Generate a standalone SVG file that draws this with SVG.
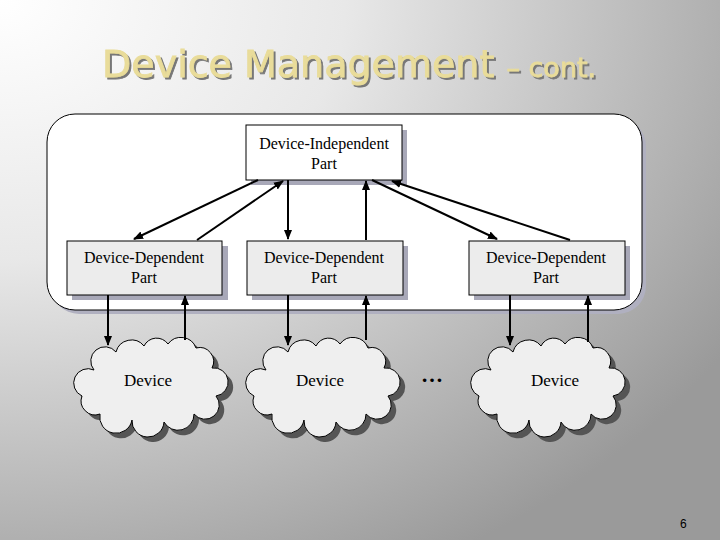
<svg xmlns="http://www.w3.org/2000/svg" width="720" height="540" viewBox="0 0 720 540">
<defs>
<radialGradient id="bg" cx="0" cy="0" r="1.2" gradientUnits="objectBoundingBox">
<stop offset="0" stop-color="#ffffff"/><stop offset="0.4" stop-color="#e8e8e8"/><stop offset="1" stop-color="#9a9a9a"/>
</radialGradient>
<filter id="ds" x="-5%" y="-20%" width="110%" height="140%"><feDropShadow dx="2" dy="2" stdDeviation="0.6" flood-color="#777"/></filter>
<marker id="ah" viewBox="0 0 10 10" refX="9" refY="5" markerWidth="5" markerHeight="5" orient="auto"><path d="M0,1 L10,5 L0,9 Z" fill="#000"/></marker>
<path id="cloud" d="M18,32 A14,14 0 0 1 40,14 A16,16 0 0 1 68,8 A14,14 0 0 1 92,6 A16,16 0 0 1 120,10 A14,14 0 0 1 136,30 A14,14 0 0 1 140,58 A14,14 0 0 1 118,76 A16,16 0 0 1 88,84 A16,16 0 0 1 56,82 A16,16 0 0 1 24,76 A14,14 0 0 1 6,58 A14,14 0 0 1 18,32 Z"/>
</defs>
<style>
.box{fill:#fff;stroke:#000;stroke-width:1}
.dd{fill:#ececec;stroke:#000;stroke-width:1}
.sh{fill:#a8a8b8}
.t{font-family:"Liberation Serif",serif;font-size:16px;text-anchor:middle;fill:#000}
.c{stroke:#000;stroke-width:2;fill:none;marker-end:url(#ah)}
.cl{fill:#efefef;stroke:#000;stroke-width:1}
.cls{fill:#555}
</style>
<rect width="720" height="540" fill="url(#bg)"/>
<g id="title" font-family="DejaVu Sans,sans-serif" filter="url(#ds)">
<text x="102" y="77" font-size="38" fill="#e9dc9a" stroke="#e9dc9a" stroke-width="0.8">Device Management <tspan font-size="27">– cont.</tspan></text>
</g>
<g id="container"><rect x="51" y="118" width="595" height="196" rx="28" fill="#b0b0c0"/><rect x="47" y="114" width="595" height="196" rx="28" fill="#fff" stroke="#000"/></g>
<g id="dip"><rect class="sh" x="251" y="130" width="156" height="55"/><rect class="box" x="246" y="125" width="156" height="55"/><text class="t" x="324" y="149">Device-Independent</text><text class="t" x="324" y="169">Part</text></g>
<g id="ddp1"><rect class="sh" x="72" y="246" width="156" height="54"/><rect class="dd" x="67" y="241" width="155" height="54"/><text class="t" x="144" y="263">Device-Dependent</text><text class="t" x="144" y="283">Part</text></g>
<g id="ddp2"><rect class="sh" x="252" y="246" width="156" height="54"/><rect class="dd" x="247" y="241" width="156" height="54"/><text class="t" x="324" y="263">Device-Dependent</text><text class="t" x="324" y="283">Part</text></g>
<g id="ddp3"><rect class="sh" x="474" y="246" width="156" height="54"/><rect class="dd" x="469" y="241" width="156" height="54"/><text class="t" x="546" y="263">Device-Dependent</text><text class="t" x="546" y="283">Part</text></g>
<g id="dev1"><use href="#cloud" class="cls" transform="translate(81,343)"/><use href="#cloud" class="cl" transform="translate(76,338)"/><text x="148" y="386" font-family="Liberation Serif,serif" font-size="17" text-anchor="middle">Device</text></g>
<g id="dev2"><use href="#cloud" class="cls" transform="translate(253,343)"/><use href="#cloud" class="cl" transform="translate(248,338)"/><text x="320" y="386" font-family="Liberation Serif,serif" font-size="17" text-anchor="middle">Device</text></g>
<g id="dev3"><use href="#cloud" class="cls" transform="translate(478,343)"/><use href="#cloud" class="cl" transform="translate(473,338)"/><text x="555" y="386" font-family="Liberation Serif,serif" font-size="17" text-anchor="middle">Device</text></g>
<text x="432" y="382" font-family="Liberation Serif,serif" font-size="22" font-weight="bold" text-anchor="middle">…</text>
<g id="connectors">
<line class="c" x1="258" y1="180" x2="134" y2="239"/>
<line class="c" x1="197" y1="240" x2="283" y2="181"/>
<line class="c" x1="288" y1="180" x2="288" y2="239"/>
<line class="c" x1="366" y1="240" x2="366" y2="181"/>
<line class="c" x1="372" y1="180" x2="497" y2="239"/>
<line class="c" x1="570" y1="240" x2="392" y2="181"/>
<line class="c" x1="108" y1="295" x2="108" y2="345"/>
<line class="c" x1="185" y1="340" x2="185" y2="296"/>
<line class="c" x1="288" y1="295" x2="288" y2="345"/>
<line class="c" x1="366" y1="340" x2="366" y2="296"/>
<line class="c" x1="510" y1="295" x2="510" y2="345"/>
<line class="c" x1="588" y1="342" x2="588" y2="296"/>
</g>
<text x="680" y="528" font-family="Liberation Sans,sans-serif" font-size="12">6</text>
</svg>
